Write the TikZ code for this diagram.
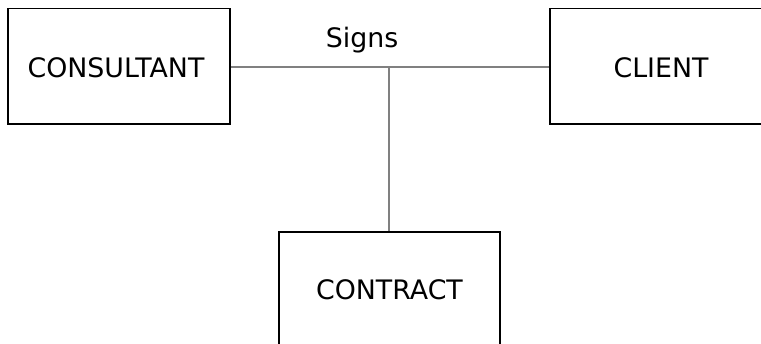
\documentclass[tikz,border=0pt]{standalone}
\usepackage{fontspec}
\setmainfont{DejaVu Sans}
\begin{document}
\begin{tikzpicture}[x=1pt,y=-1pt,
  ent/.style={draw=black,line width=1.5pt,fill=white},
  conn/.style={draw=gray,line width=1.7pt},
  lbl/.style={font=\fontsize{26.8}{32}\selectfont,text=black}]
\useasboundingbox (0,0) rectangle (761,343);
\draw[conn] (230,67) coordinate (cl) -- (550,67) coordinate (cr);
\coordinate (j) at (389,67);
\coordinate (ct) at (389,232);
\draw[conn] (j) -- (ct);
\draw[ent] (8,8.5) rectangle (230,124);
\draw[ent] (550,8.5) rectangle (775,124);
\draw[ent] (279,232) rectangle (500,360);
\node[lbl] (consultant) at (116,68) {CONSULTANT};
\node[lbl] (client) at (661,68) {CLIENT};
\node[lbl] (contract) at (389.5,290) {CONTRACT};
\node[lbl] (signs) at (362,40) {Signs};
\end{tikzpicture}
\end{document}
